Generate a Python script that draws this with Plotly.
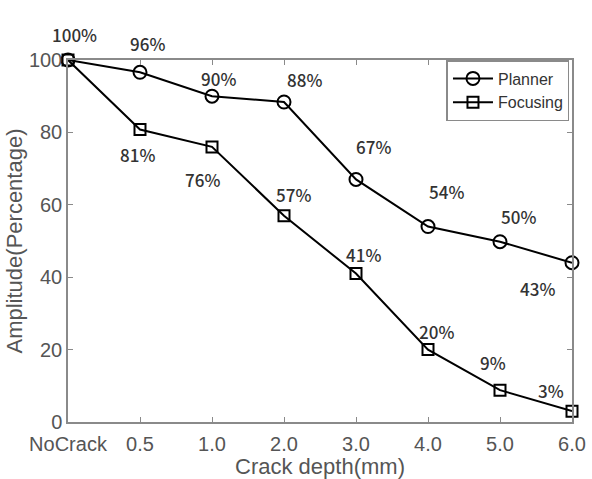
import plotly.graph_objects as go

categories = ["NoCrack", "0.5", "1.0", "2.0", "3.0", "4.0", "5.0", "6.0"]
planner = [100, 96.6, 90, 88.4, 67, 54, 49.8, 44]
focusing = [100, 80.8, 76, 57, 41, 20, 8.8, 3]
planner_labels = ["100%", "96%", "90%", "88%", "67%", "54%", "50%", "43%"]
focusing_labels = ["", "81%", "76%", "57%", "41%", "20%", "9%", "3%"]
y_ticks = [0, 20, 40, 60, 80, 100]

xpos = list(range(len(categories)))

fig = go.Figure()
fig.add_trace(go.Scatter(
    x=xpos, y=planner, name="Planner", mode="lines+markers",
    line=dict(color="black", width=2),
    marker=dict(symbol="circle-open", size=13, color="black", line=dict(width=2)),
    cliponaxis=False,
))
fig.add_trace(go.Scatter(
    x=xpos, y=focusing, name="Focusing", mode="lines+markers",
    line=dict(color="black", width=2),
    marker=dict(symbol="square-open", size=11, color="black", line=dict(width=2)),
    cliponaxis=False,
))

p_off = [(6, 26), (7, 29), (6, 18), (20, 22), (17, 33), (18, 35), (18, 25), (-35, -26)]
f_off = [(0, 0), (-3, -25), (-10, -33), (9, 21), (7, 19), (8, 18), (-7, 28), (-21, 21)]
lab_font = dict(family="Noto Sans CJK KR, Noto Sans, sans-serif", size=17, color="#333", weight=500)
for i, t in enumerate(planner_labels):
    if t:
        fig.add_annotation(x=xpos[i], y=planner[i], text=t, showarrow=False,
                           xshift=p_off[i][0], yshift=p_off[i][1], font=lab_font)
for i, t in enumerate(focusing_labels):
    if t:
        fig.add_annotation(x=xpos[i], y=focusing[i], text=t, showarrow=False,
                           xshift=f_off[i][0], yshift=f_off[i][1], font=lab_font)

axis_common = dict(
    showline=True, linecolor="#8a8a8a", linewidth=1.5, mirror="ticks",
    ticks="inside", ticklen=5, tickcolor="#8a8a8a", tickwidth=1,
    showgrid=False, zeroline=False, automargin=False,
    tickfont=dict(family="Liberation Sans, Arial, sans-serif", size=20, color="#555"),
    title_font=dict(family="Liberation Sans, Arial, sans-serif", size=22, color="#555"),
)
fig.update_xaxes(range=[0, 7], tickvals=xpos, ticktext=categories,
                 title_text="Crack depth(mm)", title_standoff=7, ticklabelstandoff=3,
                 **axis_common)
fig.update_yaxes(range=[0, 100], tickvals=y_ticks,
                 title_text="Amplitude(Percentage)", title_standoff=0, **axis_common)

fig.update_layout(
    width=592, height=479,
    margin=dict(l=68, r=20, t=60, b=57),
    plot_bgcolor="white", paper_bgcolor="white",
    showlegend=True,
    legend=dict(x=0.995, y=1, xanchor="right", yanchor="top",
                bgcolor="white", bordercolor="#8a8a8a", borderwidth=1.5,
                font=dict(family="Liberation Sans, Arial, sans-serif", size=16, color="#333"),
                itemwidth=40, tracegroupgap=0),
)

fig.write_html("out.html")
